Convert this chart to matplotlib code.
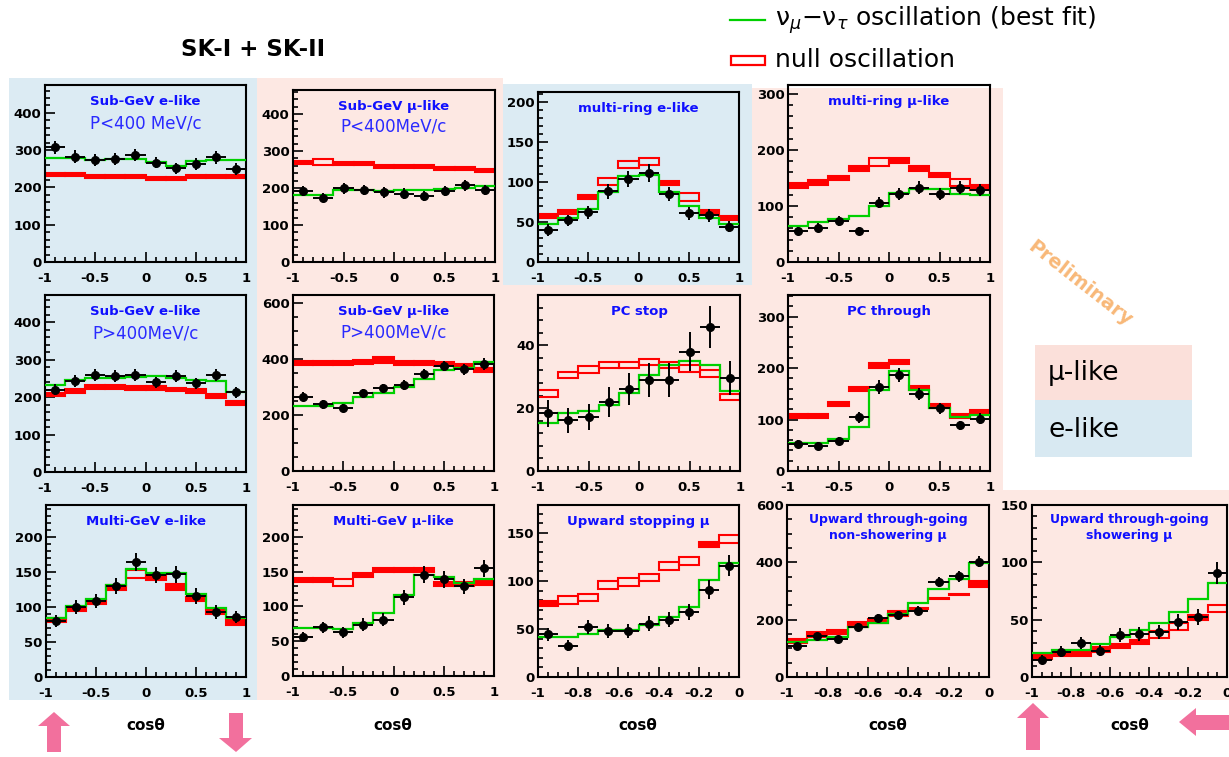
import numpy as np
import matplotlib
matplotlib.use("Agg")
import matplotlib.pyplot as plt
from matplotlib.patches import Rectangle, Polygon
from matplotlib.lines import Line2D
from matplotlib.ticker import MultipleLocator

plt.rcParams['axes.unicode_minus'] = False
plt.rcParams['font.family'] = ['DejaVu Sans']

W, H = 1229, 757
BLUE_BG = '#dcebf3'
PINK_BG = '#fde8e3'
TITLE_BLUE = '#1010ff'
FIT_GREEN = '#00d000'
ARROW_PINK = '#f2709d'

# ---- data, 10 bins each ----
# Sub-GeV e-like P<400 MeV/c
sge_lo_data = [308, 283, 274, 276, 287, 267, 251, 262, 281, 250]
sge_lo_err = [18, 17, 16, 17, 17, 16, 16, 16, 17, 16]
sge_lo_fit = [280, 278, 275, 276, 276, 268, 258, 272, 274, 274]
sge_lo_null = [236, 236, 229, 229, 229, 223, 223, 229, 229, 229]
sge_lo_nerr = [4, 4, 4, 4, 4, 4, 4, 4, 4, 4]

# Sub-GeV mu-like P<400 MeV/c
sgm_lo_data = [192, 174, 199, 194, 188, 185, 179, 192, 207, 194]
sgm_lo_err = [14, 13, 14, 14, 14, 14, 13, 14, 14, 14]
sgm_lo_fit = [182, 182, 195, 195, 192, 196, 196, 198, 200, 205]
sgm_lo_null = [269, 270, 267, 267, 259, 259, 259, 254, 254, 247]
sgm_lo_nerr = [4, 9, 4, 4, 4, 4, 4, 4, 4, 4]

# multi-ring e-like
mre_data = [40, 52, 62, 88, 104, 111, 85, 61, 58, 44]
mre_err = [7, 7, 8, 9, 10, 11, 9, 8, 8, 7]
mre_fit = [47, 55, 66, 87, 107, 108, 87, 70, 55, 47]
mre_null = [57, 62, 81, 100, 122, 125, 99, 81, 62, 55]
mre_nerr = [2.5, 2.5, 2.5, 4.5, 4.5, 4.5, 2.5, 4.5, 2.5, 2.5]

# multi-ring mu-like
mrm_data = [55, 61, 73, 55, 106, 122, 133, 122, 133, 128]
mrm_err = [7, 8, 9, 7, 10, 11, 12, 11, 12, 11]
mrm_fit = [65, 71, 77, 83, 100, 124, 130, 131, 122, 119]
mrm_null = [137, 142, 150, 167, 178, 181, 167, 155, 142, 133]
mrm_nerr = [4, 4, 4, 4, 7, 4, 4, 4, 6, 4]

# Sub-GeV e-like P>400 MeV/c
sge_hi_data = [220, 244, 258, 255, 260, 239, 255, 237, 258, 213]
sge_hi_err = [15, 16, 16, 16, 16, 15, 16, 15, 16, 15]
sge_hi_fit = [233, 246, 252, 252, 253, 255, 251, 245, 242, 214]
sge_hi_null = [207, 216, 226, 226, 225, 224, 220, 216, 202, 185]
sge_hi_nerr = [5, 5, 5, 5, 5, 5, 5, 5, 5, 5]

# Sub-GeV mu-like P>400 MeV/c
sgm_hi_data = [265, 238, 224, 277, 295, 307, 346, 375, 363, 382]
sgm_hi_err = [16, 15, 15, 17, 17, 18, 19, 19, 19, 20]
sgm_hi_fit = [233, 233, 242, 263, 277, 299, 329, 361, 369, 390]
sgm_hi_null = [387, 387, 387, 390, 396, 387, 385, 382, 375, 361]
sgm_hi_nerr = [7, 7, 7, 7, 10, 7, 7, 7, 7, 7]

# PC stop
pcs_data = [18.3, 16.2, 17.2, 22.0, 26.0, 29.1, 29.1, 37.9, 45.8, 29.7]
pcs_err = [4.3, 4.0, 4.2, 4.7, 5.1, 5.4, 5.4, 6.2, 6.8, 5.4]
pcs_fit = [15.3, 18.3, 19.1, 21.0, 24.7, 30.5, 33.7, 35.0, 33.7, 25.4]
pcs_null = [24.7, 30.5, 32.3, 33.7, 33.7, 34.7, 33.7, 32.6, 31.0, 23.6]
pcs_nerr = [1.0, 1.0, 1.0, 1.0, 1.0, 1.0, 1.0, 1.0, 1.0, 1.0]

# PC through
pct_data = [53, 49, 59, 104, 163, 186, 149, 122, 89, 102]
pct_err = [7, 7, 8, 10, 13, 14, 12, 11, 9, 10]
pct_fit = [55, 55, 63, 85, 158, 195, 158, 123, 105, 109]
pct_null = [107, 107, 130, 159, 205, 212, 161, 126, 107, 114]
pct_nerr = [4, 4, 4, 4, 4, 4, 4, 4, 4, 4]

# Multi-GeV e-like
mge_data = [80, 100, 109, 130, 165, 146, 147, 116, 93, 86]
mge_err = [9, 10, 10, 11, 13, 12, 12, 11, 10, 9]
mge_fit = [84, 101, 112, 132, 154, 149, 149, 118, 98, 84]
mge_null = [82, 97, 107, 128, 147, 142, 129, 112, 93, 78]
mge_nerr = [3, 3, 3, 3, 6, 3, 4, 3, 3, 3]

# Multi-GeV mu-like
mgm_data = [56, 70, 63, 74, 81, 113, 146, 139, 129, 155]
mgm_err = [7, 8, 8, 9, 9, 11, 12, 12, 11, 12]
mgm_fit = [69, 69, 68, 76, 91, 117, 145, 143, 134, 139]
mgm_null = [138, 138, 135, 145, 153, 153, 153, 132, 132, 134]
mgm_nerr = [3, 3, 5, 3, 3, 3, 3, 3, 3, 3]

# Upward stopping mu
ups_data = [44.5, 32.3, 52.0, 48.0, 48.0, 55.6, 59.8, 67.7, 91.0, 116.0]
ups_err = [6.7, 5.7, 7.2, 6.9, 6.9, 7.5, 7.7, 8.2, 9.5, 10.8]
ups_fit = [41.7, 41.7, 45.0, 48.6, 48.6, 53.8, 62.5, 73.0, 100.7, 118.8]
ups_null = [76.4, 80.0, 82.7, 95.5, 99.0, 103.5, 115.6, 120.5, 138.0, 143.4]
ups_nerr = [2.5, 4, 4, 4, 4, 4, 4, 4, 2.5, 4]

# Upward through-going non-showering mu
utn_data = [107, 142, 132, 175, 206, 216, 231, 332, 352, 402]
utn_err = [10, 12, 11, 13, 14, 15, 15, 18, 19, 20]
utn_fit = [122, 128, 140, 175, 187, 219, 257, 306, 341, 399]
utn_null = [125, 149, 157, 183, 195, 222, 239, 274, 288, 324]
utn_nerr = [8, 8, 8, 8, 8, 8, 3, 3, 3, 10]

# Upward through-going showering mu
uts_data = [15.2, 21.9, 29.8, 22.8, 36.5, 37.4, 39.4, 48.0, 52.5, 90.5]
uts_err = [4.0, 4.7, 5.5, 4.8, 6.0, 6.1, 6.3, 6.9, 7.2, 9.5]
uts_fit = [21.0, 23.4, 23.4, 29.2, 35.0, 40.9, 46.7, 56.9, 68.0, 82.3]
uts_null = [18.0, 20.4, 20.4, 24.0, 26.9, 30.6, 37.4, 43.7, 52.0, 59.8]
uts_nerr = [2, 2, 2, 2, 2, 2, 3, 3, 2, 3]


def fx(x):
    return x / W


def fy(y):
    return 1 - y / H


def ax_at(fig, l, t, r, b):
    return fig.add_axes([l / W, 1 - b / H, (r - l) / W, (b - t) / H])


def bg_rect(fig, l, t, r, b, color):
    fig.patches.append(Rectangle((fx(l), fy(b)), (r - l) / W, (b - t) / H,
                                 transform=fig.transFigure, facecolor=color,
                                 edgecolor='none', zorder=-10))


def arrow(fig, pts):
    fig.patches.append(Polygon([(fx(x), fy(y)) for x, y in pts], closed=True,
                               transform=fig.transFigure, facecolor=ARROW_PINK,
                               edgecolor='none'))


def draw_panel(fig, box, title, sub, data, err, fit, null, nerr, ytop, ymajor,
               yminor, upward=False):
    ax = ax_at(fig, *box)
    ax.set_facecolor('none')
    if upward:
        edges = np.linspace(-1, 0, 11)
        xt = [-1, -0.8, -0.6, -0.4, -0.2, 0]
        xl = ['-1', '-0.8', '-0.6', '-0.4', '-0.2', '0']
        xminor = 0.05
    else:
        edges = np.linspace(-1, 1, 11)
        xt = [-1, -0.5, 0, 0.5, 1]
        xl = ['-1', '-0.5', '0', '0.5', '1']
        xminor = 0.1
    centers = (edges[:-1] + edges[1:]) / 2
    bw = edges[1] - edges[0]
    null = np.array(null)
    nerr = np.array(nerr)
    # thin MC boxes look solid red, thicker ones are open boxes
    box_px = 2 * nerr / ytop * (box[3] - box[1])
    faces = ['red' if h < 6 else 'none' for h in box_px]
    ax.bar(centers, 2 * nerr, bottom=null - nerr, width=bw, color=faces,
           edgecolor='red', linewidth=1.5, zorder=2)
    ax.stairs(fit, edges, baseline=None, color=FIT_GREEN, linewidth=1.6,
              zorder=3)
    ax.errorbar(centers, data, xerr=bw / 2, yerr=err, fmt='o', color='black',
                ms=5.5, elinewidth=1.4, capsize=0, zorder=4)
    ax.set_xlim(edges[0], edges[-1])
    ax.set_ylim(0, ytop)
    ax.set_xticks(xt)
    ax.set_xticklabels(xl)
    ax.xaxis.set_minor_locator(MultipleLocator(xminor))
    ax.yaxis.set_major_locator(MultipleLocator(ymajor))
    ax.yaxis.set_minor_locator(MultipleLocator(yminor))
    ax.tick_params(which='both', direction='in', top=False, right=False,
                   width=1.2)
    ax.tick_params(which='major', length=7, labelsize=9.5)
    ax.tick_params(axis='x', which='major', pad=7)
    ax.tick_params(axis='y', which='major', pad=2.5)
    ax.tick_params(which='minor', length=3.5)
    for lab in ax.get_xticklabels() + ax.get_yticklabels():
        lab.set_fontweight('bold')
    for s in ax.spines.values():
        s.set_linewidth(1.5)
    if '\n' in title:
        ax.text(0.5, 0.87, title, transform=ax.transAxes, ha='center',
                va='center', color=TITLE_BLUE, fontsize=9, fontweight='bold',
                linespacing=1.35)
    else:
        ax.text(0.5, 0.905, title, transform=ax.transAxes, ha='center',
                va='center', color=TITLE_BLUE, fontsize=9.5, fontweight='bold')
    if sub:
        ax.text(0.5, 0.785, sub, transform=ax.transAxes, ha='center',
                va='center', color='#2a2aff', fontsize=12)
    return ax


def main():
    fig = plt.figure(figsize=(W / 100, H / 100), dpi=100)
    fig.patch.set_facecolor('white')

    # coloured backgrounds (e-like blue, mu-like pink)
    bg_rect(fig, 9, 78, 257, 700, BLUE_BG)
    bg_rect(fig, 257, 78, 503, 700, PINK_BG)
    bg_rect(fig, 503, 84, 752, 285, BLUE_BG)
    bg_rect(fig, 752, 88, 1003, 285, PINK_BG)
    bg_rect(fig, 503, 285, 1003, 700, PINK_BG)
    bg_rect(fig, 1003, 490, 1229, 700, PINK_BG)

    draw_panel(fig, (45, 85, 246, 262), 'Sub-GeV e-like', 'P<400 MeV/c',
               sge_lo_data, sge_lo_err, sge_lo_fit, sge_lo_null, sge_lo_nerr,
               475, 100, 20)
    draw_panel(fig, (293, 90, 495, 262), 'Sub-GeV \u03bc-like', 'P<400MeV/c',
               sgm_lo_data, sgm_lo_err, sgm_lo_fit, sgm_lo_null, sgm_lo_nerr,
               465, 100, 20)
    draw_panel(fig, (538, 92, 739, 262), 'multi-ring e-like', None,
               mre_data, mre_err, mre_fit, mre_null, mre_nerr, 212, 50, 10)
    draw_panel(fig, (788, 85, 990, 262), 'multi-ring \u03bc-like', None,
               mrm_data, mrm_err, mrm_fit, mrm_null, mrm_nerr, 316, 100, 20)
    draw_panel(fig, (45, 295, 246, 472), 'Sub-GeV e-like', 'P>400MeV/c',
               sge_hi_data, sge_hi_err, sge_hi_fit, sge_hi_null, sge_hi_nerr,
               472, 100, 20)
    draw_panel(fig, (293, 295, 494, 471), 'Sub-GeV \u03bc-like', 'P>400MeV/c',
               sgm_hi_data, sgm_hi_err, sgm_hi_fit, sgm_hi_null, sgm_hi_nerr,
               628, 200, 50)
    draw_panel(fig, (538, 295, 740, 471), 'PC stop', None,
               pcs_data, pcs_err, pcs_fit, pcs_null, pcs_nerr, 56, 20, 4)
    draw_panel(fig, (788, 295, 990, 471), 'PC through', None,
               pct_data, pct_err, pct_fit, pct_null, pct_nerr, 342, 100, 20)
    draw_panel(fig, (46, 505, 246, 677), 'Multi-GeV e-like', None,
               mge_data, mge_err, mge_fit, mge_null, mge_nerr, 246, 50, 10)
    draw_panel(fig, (293, 505, 494, 676), 'Multi-GeV \u03bc-like', None,
               mgm_data, mgm_err, mgm_fit, mgm_null, mgm_nerr, 246, 50, 10)
    draw_panel(fig, (538, 505, 739, 677), 'Upward stopping \u03bc', None,
               ups_data, ups_err, ups_fit, ups_null, ups_nerr, 179, 50, 10,
               upward=True)
    draw_panel(fig, (787, 505, 989, 677),
               'Upward through-going\nnon-showering \u03bc', None,
               utn_data, utn_err, utn_fit, utn_null, utn_nerr, 600, 200, 50,
               upward=True)
    draw_panel(fig, (1032, 505, 1227, 677),
               'Upward through-going\nshowering \u03bc', None,
               uts_data, uts_err, uts_fit, uts_null, uts_nerr, 150, 50, 10,
               upward=True)

    # x-axis labels under the bottom row
    for cx in [146, 393, 638, 888, 1130]:
        fig.text(fx(cx), fy(725), 'cos\u03b8', ha='center', va='center',
                 fontsize=11, fontweight='bold')

    # header and legend
    fig.text(fx(253), fy(50), 'SK-I + SK-II', ha='center', va='center',
             fontsize=16.5, fontweight='bold')
    fig.add_artist(Line2D([fx(730), fx(765)], [fy(20), fy(20)],
                          transform=fig.transFigure, color=FIT_GREEN, lw=1.6))
    fig.text(fx(775), fy(20), '\u03bd$_\\mu$\u2212\u03bd$_\\tau$ oscillation (best fit)',
             ha='left', va='center', fontsize=18)
    fig.patches.append(Rectangle((fx(731), fy(65)), 34 / W, 9 / H,
                                 transform=fig.transFigure, facecolor='none',
                                 edgecolor='red', lw=1.6))
    fig.text(fx(775), fy(60), 'null oscillation', ha='left', va='center',
             fontsize=18)

    fig.text(fx(1080), fy(283), 'Preliminary', ha='center', va='center',
             rotation=-38, fontsize=14, fontweight='bold', color='#f8b878')

    bg_rect(fig, 1035, 345, 1192, 400, '#fbe0da')
    bg_rect(fig, 1035, 400, 1192, 457, '#d8e9f2')
    fig.text(fx(1048), fy(373), '\u03bc-like', ha='left', va='center',
             fontsize=19)
    fig.text(fx(1048), fy(430), 'e-like', ha='left', va='center', fontsize=19)

    # direction arrows
    arrow(fig, [(54, 712), (70, 726), (61, 726), (61, 752), (47, 752),
                (47, 726), (38, 726)])
    arrow(fig, [(236, 752), (252, 738), (243, 738), (243, 713), (229, 713),
                (229, 738), (219, 738)])
    arrow(fig, [(1033, 703), (1049, 718), (1040, 718), (1040, 750), (1026, 750),
                (1026, 718), (1017, 718)])
    arrow(fig, [(1179, 722), (1196, 708), (1196, 715), (1229, 715), (1229, 730),
                (1196, 730), (1196, 736)])

    fig.savefig('out.png', dpi=100)


if __name__ == '__main__':
    main()
